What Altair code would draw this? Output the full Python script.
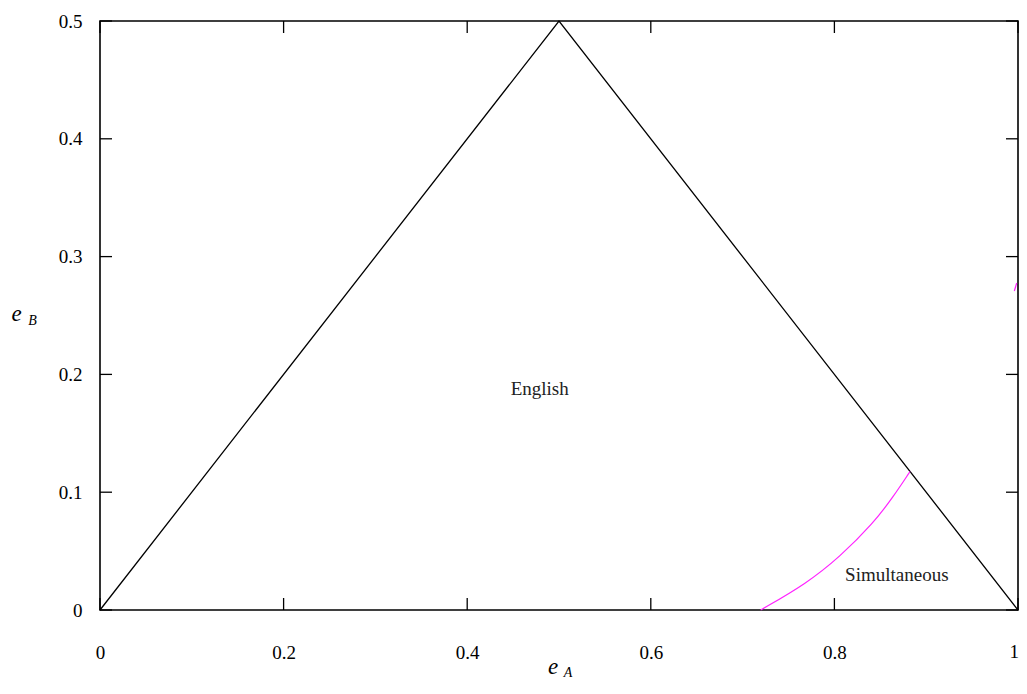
import altair as alt
import pandas as pd

# ---- data ----
x_ticks = [0, 0.2, 0.4, 0.6, 0.8, 1.0]
y_ticks = [0, 0.1, 0.2, 0.3, 0.4, 0.5]

tri_x = [0.0, 0.5, 1.0]
tri_y = [0.0, 0.5, 0.0]

curve_x = [0.7197, 0.7698, 0.806, 0.8424, 0.8642, 0.8824]
curve_y = [0.0, 0.0226, 0.0452, 0.0736, 0.0962, 0.1176]

frag_x = [0.9960, 0.9986]
frag_y = [0.2708, 0.2776]

region_labels = ["English", "Simultaneous"]
region_x = [0.479, 0.868]
region_y = [0.1876, 0.0297]

W, H = 918, 589
FONT = "Liberation Serif"
TICK = 12
LPAD = 33

xscale = alt.Scale(domain=[0, 1], nice=False, zero=False)
yscale = alt.Scale(domain=[0, 0.5], nice=False, zero=False)

x_axis = alt.Axis(values=x_ticks, format="~g", ticks=False, domain=False, grid=False,
                  labelPadding=LPAD, labelFontSize=19, labelFont=FONT, labelColor="black",
                  title=None, labelFlush=False,
                  labelExpr="datum.value >= 1 ? '' : datum.label")
y_axis = alt.Axis(values=y_ticks, format="~g", ticks=False, domain=False, grid=False,
                  labelPadding=18, labelFontSize=19, labelFont=FONT, labelColor="black",
                  title=None, labelFlush=False)

X = alt.X("x:Q", scale=xscale, axis=x_axis)
Y = alt.Y("y:Q", scale=yscale, axis=y_axis)

tri = alt.Chart(pd.DataFrame({"x": tri_x, "y": tri_y})).mark_line(
    color="black", strokeWidth=1.3).encode(x=X, y=Y)

curve = alt.Chart(pd.DataFrame({"x": curve_x, "y": curve_y})).mark_line(
    color="#ff22ff", strokeWidth=1.2, interpolate="basis").encode(x=X, y=Y)

frag = alt.Chart(pd.DataFrame({"x": frag_x, "y": frag_y})).mark_line(
    color="#ff22ff", strokeWidth=1.2, clip=False).encode(x=X, y=Y)

labels = alt.Chart(pd.DataFrame({"x": region_x, "y": region_y, "t": region_labels})).mark_text(
    font=FONT, fontSize=19, color="#222222").encode(x=X, y=Y, text="t:N")

# last x tick label, kept inside the page's right edge
last_lab = alt.Chart(pd.DataFrame({"x": [x_ticks[-1]], "t": ["1"]})).mark_text(
    font=FONT, fontSize=19, color="black", align="right", baseline="top", dx=1
).encode(x=X, y=alt.value(H + LPAD), text="t:N")

xt = pd.DataFrame({"x": x_ticks})
yt = pd.DataFrame({"y": y_ticks})
tick_b = alt.Chart(xt).mark_rule(color="black", strokeWidth=1.3).encode(
    x=X, y=alt.value(H), y2=alt.value(H - TICK))
tick_t = alt.Chart(xt).mark_rule(color="black", strokeWidth=1.3).encode(
    x=X, y=alt.value(0), y2=alt.value(TICK))
tick_l = alt.Chart(yt).mark_rule(color="black", strokeWidth=1.3).encode(
    y=Y, x=alt.value(0), x2=alt.value(TICK))
tick_r = alt.Chart(yt).mark_rule(color="black", strokeWidth=1.3).encode(
    y=Y, x=alt.value(W), x2=alt.value(W - TICK))

one = pd.DataFrame({"d": [0]})
ea_e = alt.Chart(one).mark_text(text="e", font=FONT, fontSize=23, fontStyle="italic",
                                baseline="alphabetic", color="black").encode(
    x=alt.value(453), y=alt.value(653))
ea_s = alt.Chart(one).mark_text(text="A", font=FONT, fontSize=14, fontStyle="italic",
                                baseline="alphabetic", color="black").encode(
    x=alt.value(468), y=alt.value(655.5))
eb_e = alt.Chart(one).mark_text(text="e", font=FONT, fontSize=23, fontStyle="italic",
                                baseline="alphabetic", color="black").encode(
    x=alt.value(-83.5), y=alt.value(300))
eb_s = alt.Chart(one).mark_text(text="B", font=FONT, fontSize=14, fontStyle="italic",
                                baseline="alphabetic", color="black").encode(
    x=alt.value(-67.5), y=alt.value(304))

chart = alt.layer(tri, curve, frag, labels, last_lab, tick_b, tick_t, tick_l, tick_r,
                  ea_e, ea_s, eb_e, eb_s).properties(
    width=W, height=H,
    autosize=alt.AutoSizeParams(type="none"),
    padding={"left": 92, "top": 13, "right": 1, "bottom": 70},
    background="white",
).configure_view(stroke="black", strokeWidth=1.6)

chart.save("out.html", embed_options={"renderer": "svg", "actions": False})
